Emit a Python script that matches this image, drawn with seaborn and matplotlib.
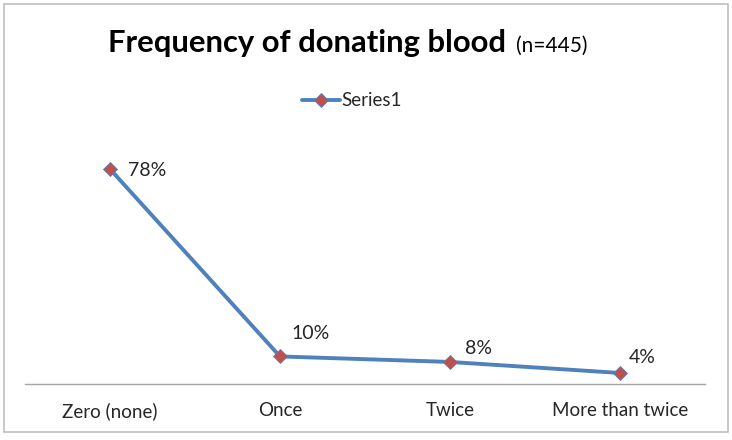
import matplotlib
matplotlib.use("Agg")
import matplotlib.pyplot as plt
from matplotlib.patches import Rectangle
from matplotlib.lines import Line2D
import seaborn as sns
import pandas as pd

categories = ["Zero (none)", "Once", "Twice", "More than twice"]
values = [0.78, 0.10, 0.08, 0.04]
value_labels = ["78%", "10%", "8%", "4%"]
series_name = "Series1"

sns.set_theme(style="white")
plt.rcParams['font.family'] = ['Lato', 'DejaVu Sans']

W, H = 732, 440
fig = plt.figure(figsize=(W / 100, H / 100), dpi=100)
ax = fig.add_axes([25 / W, (H - 384) / H, 680 / W, 248 / H])

LINE_C = "#4F81BD"
MARK_C = "#C0504D"
TXT_C = "#262626"

df = pd.DataFrame({"cat": categories, "val": values, "series": series_name})
sns.lineplot(data=df, x="cat", y="val", hue="series", palette=[LINE_C],
             marker="D", markersize=7, markerfacecolor=MARK_C,
             markeredgecolor=LINE_C, markeredgewidth=0.6,
             linewidth=2.8, sort=False, ax=ax, legend=False)

ax.set_xlim(-0.5, len(categories) - 0.5)
ax.set_ylim(0, 0.9)
ax.set_xlabel("")
ax.set_ylabel("")
ax.set_yticks([])
ax.set_xticks(range(len(categories)))
ax.set_xticklabels(categories, fontsize=13.5, color=TXT_C)
ax.tick_params(axis="x", length=0, pad=13)
for s in ["top", "left", "right"]:
    ax.spines[s].set_visible(False)
ax.spines["bottom"].set_color("#A6A6A6")
ax.spines["bottom"].set_linewidth(1)

# data labels (offsets in points)
offsets = [(13, -1), (8, 16.5), (11, 9.5), (6, 11.5)]
for i, (v, lab) in enumerate(zip(values, value_labels)):
    ax.annotate(lab, (i, v), xytext=offsets[i], textcoords="offset points",
                ha="left", va="center", fontsize=14, color=TXT_C)

# title
fig.text(108 / W, 1 - 52 / H, "Frequency of donating blood", fontsize=22.3,
         fontweight="bold", ha="left", va="baseline", color="black")
fig.text(516 / W, 1 - 52 / H, "(n=445)", fontsize=15, ha="left",
         va="baseline", color="black")

# legend
handle = Line2D([], [], color=LINE_C, linewidth=2.8, marker="D",
                markersize=7, markerfacecolor=MARK_C,
                markeredgecolor=LINE_C, markeredgewidth=0.6)
fig.legend([handle], [series_name], loc="center", bbox_to_anchor=(352 / W, 1 - 101 / H),
           frameon=False, fontsize=13.5, handlelength=2.0, handletextpad=0.1,
           borderpad=0, labelcolor=TXT_C)

# outer border
fig.patches.append(Rectangle((4 / W, 8 / H), 724 / W, 428 / H,
                             transform=fig.transFigure, fill=False,
                             edgecolor="#BFBFBF", linewidth=1.2))

fig.savefig("out.png", dpi=100)
